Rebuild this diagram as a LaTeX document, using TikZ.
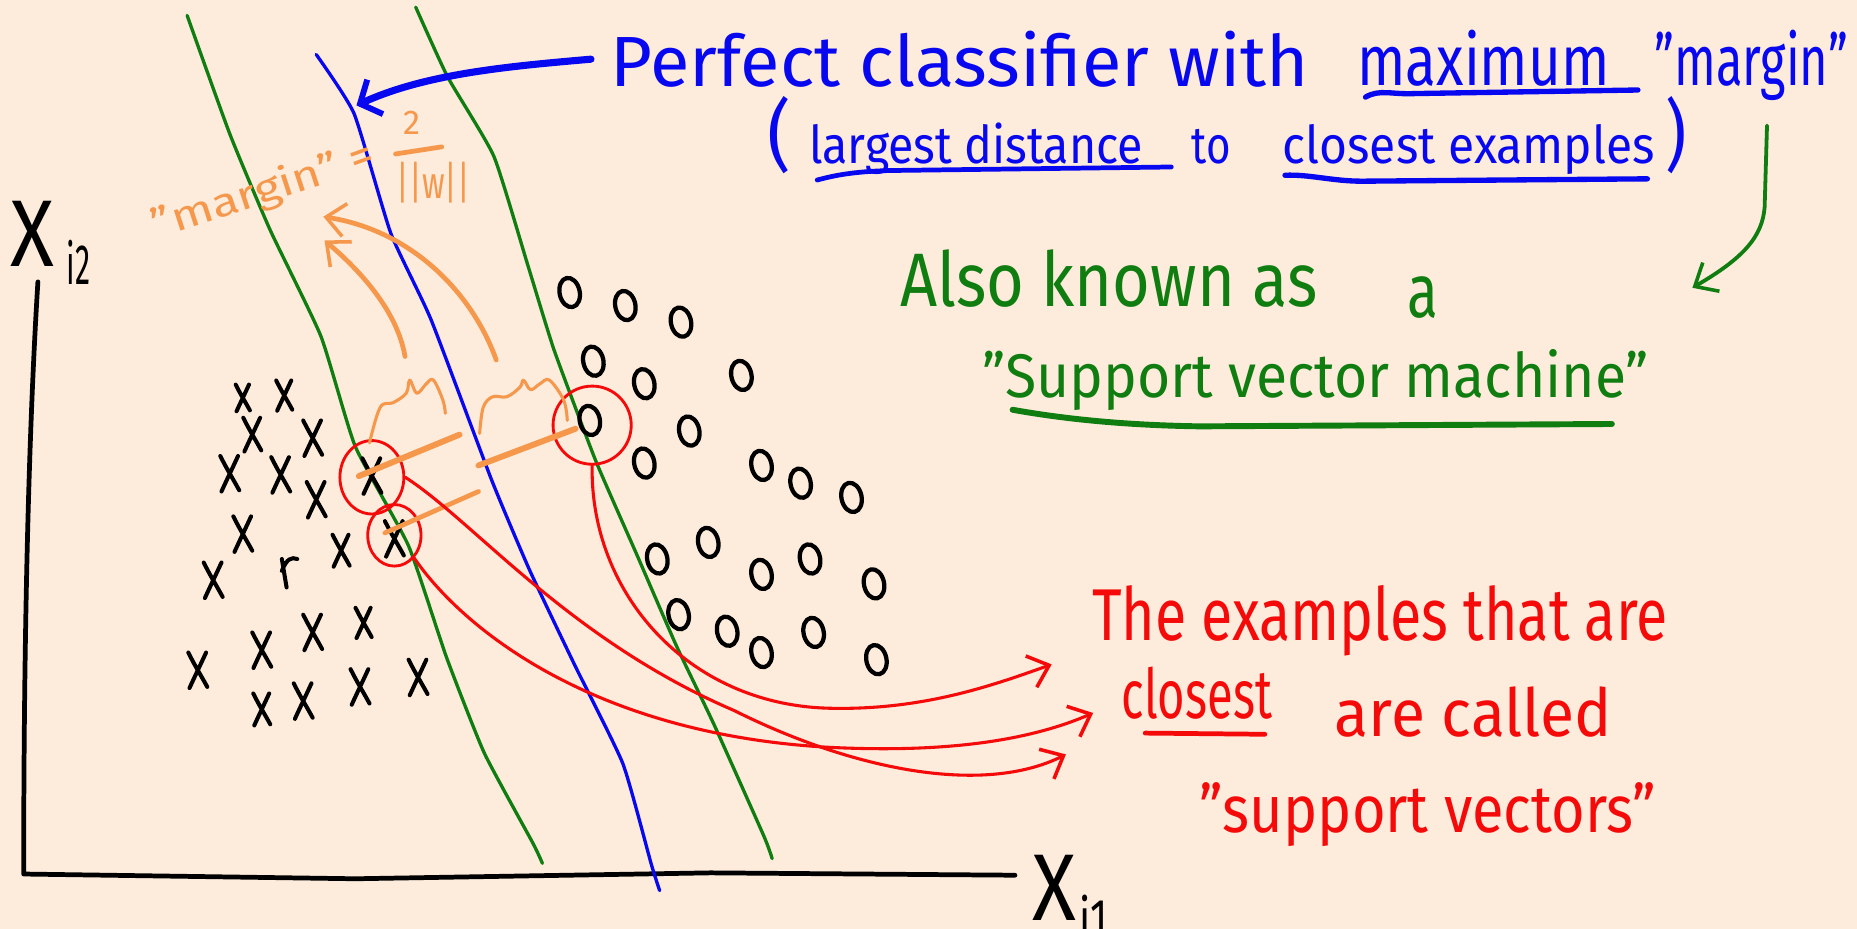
\documentclass[tikz,border=0pt]{standalone}
\usepackage{amsmath}
\usepackage{fontspec}
\setmainfont{Fira Sans}
\usetikzlibrary{arrows.meta, shapes.geometric}
\definecolor{paper}{RGB}{253,235,220}
\definecolor{inkblue}{RGB}{8,8,240}
\definecolor{inkgreen}{RGB}{16,125,16}
\definecolor{inkred}{RGB}{245,10,10}
\definecolor{inkorange}{RGB}{246,152,76}
% squeeze a text to a given width, natural height
\newcommand{\inkfit}[2]{\resizebox{#1}{\height}{#2}}

\tikzset{
  hand/.style={line width=3pt, line cap=round, line join=round},
  xmark/.style={hand, black, line width=3.4pt},
  omark/.style={hand, black, line width=3.6pt},
  ring/.style={ellipse, draw=inkred, line width=2.4pt, inner sep=0pt},
  barb/.style={-{Straight Barb[length=16pt, width=28pt, line width=3pt]}},
  note/.style={anchor=base west, inner sep=0pt},
}

\begin{document}
\begin{tikzpicture}[x=1pt, y=-1pt]
  % paper
  \fill[paper] (0,0) rectangle (1568,784);
  \useasboundingbox (0,0) rectangle (1568,784);

  % axes
  \draw[hand, line width=4pt] (32,238) .. controls (22,400) and (20,600) .. (20,738) -- (300,742) -- (600,737) -- (857,739);
  \node[note, font=\fontsize{80}{84}\selectfont] (xtwo) at (9,225) {\inkfit{37pt}{X}};
  \node[note, font=\fontsize{48}{52}\selectfont] (xtwosub) at (56,240) {\inkfit{20pt}{i2}};
  \node[note, font=\fontsize{80}{84}\selectfont] (xone) at (872,777) {\inkfit{37pt}{X}};
  \node[note, font=\fontsize{46}{50}\selectfont] (xonesub) at (911,792) {\inkfit{24pt}{i1}};

  % margin lines
  \draw[hand, inkgreen, line width=2.8pt] plot[smooth, tension=0.3] coordinates {(158,13) (194,113) (228,194) (271,284) (300,377) (345,461) (377,555) (409,636) (450,712) (458,729)};
  \draw[hand, inkgreen, line width=2.8pt] plot[smooth, tension=0.3] coordinates {(351,6) (378,65) (417,132) (446,225) (468,296) (503,389) (538,469) (571,545) (603,612) (645,706) (652,725)};
  \draw[hand, inkblue, line width=2.8pt] plot[smooth, tension=0.3] coordinates {(267,46) (299,96) (330,197) (364,270) (415,405) (447,481) (485,561) (526,645) (550,730) (557,752)};

  % class x
  \foreach \px/\py/\s in {205/336/0.75, 240/334/0.85, 213/367/0.95, 264/370/1, 194/400/1, 237/401/1,
      267/422/1, 314/402/1, 205/451/1, 180/490/1, 288/465/0.9, 333/455/1, 167/566/1, 221/549/1,
      264/534/1, 307/526/0.85, 221/599/0.9, 256/592/1, 304/580/1, 353/572/1}
    \draw[xmark, shift={(\px,\py)}, scale=\s] (-8,-15) .. controls (-2,-3) and (2,3) .. (8,14) (7,-15) .. controls (1,-2) and (-2,4) .. (-7,15);
  % r-shaped point
  \draw[xmark] (238,472) -- (242,496) (238,482) .. controls (242,472) and (246,470) .. (251,472);

  % class o
  \foreach \px/\py in {481/247, 528/258, 575/272, 501/305, 544/324, 626/317, 498/355, 582/364,
      544/391, 643/393, 676/408, 719/420, 555/472, 598/458, 643/485, 684/472, 738/493,
      573/519, 614/533, 643/551, 687/534, 740/557}
    \draw[omark] (\px,\py) ellipse [x radius=8.5, y radius=12.5, rotate=12];

  % support vector rings
  \node[ring, minimum width=54pt, minimum height=62pt] (ringa) at (314,403) {};
  \node[ring, minimum width=45pt, minimum height=52pt] (ringb) at (333,452) {};
  \node[ring, minimum width=66pt, minimum height=66pt] (ringc) at (500,359) {};

  % distances
  \draw[hand, inkorange, line width=5pt] (303,402) -- (388,367);
  \draw[hand, inkorange, line width=5pt] (404,393) -- (486,362);
  \draw[hand, inkorange, line width=4pt] (325,450) -- (404,415);
  \draw[hand, inkorange, line width=2.6pt] plot[smooth, tension=0.6] coordinates {(312,374) (321,344) (332,340) (343,332) (346,321) (352,332) (360,324) (366,321) (374,338) (376,349)};
  \draw[hand, inkorange, line width=2.6pt] plot[smooth, tension=0.6] coordinates {(405,366) (408,344) (416,335) (428,335) (439,327) (442,321) (448,329) (456,324) (464,321) (476,338) (479,355)};
  \draw[hand, inkorange, line width=4pt, barb] (342,301) .. controls (335,260) and (300,225) .. (274,203);
  \draw[hand, inkorange, line width=4pt, barb] (419,304) .. controls (400,250) and (350,195) .. (273,183);
  \node[inkorange, anchor=base, inner sep=0pt, rotate=18, font=\fontsize{34}{38}\selectfont] (marglbl) at (211,176) {\inkfit{165pt}{"margin"}};
  \node[inkorange, rotate=20, inner sep=0pt, font=\fontsize{40}{44}\selectfont] (margeq) at (306,136) {=};
  \node[inkorange, inner sep=0pt, font=\fontsize{29}{32}\selectfont] (margtwo) at (348,104) {2};
  \node[inkorange, inner sep=0pt, font=\fontsize{38}{42}\selectfont] (margnorm) at (366,154) {\inkfit{62pt}{||w||}};
  \draw[hand, inkorange, line width=4pt] (334,130) -- (373,124);

  % classifier note
  \node[note, inkblue, font=\fontsize{60}{64}\selectfont] (perf) at (515,73) {\inkfit{590pt}{Perfect classifier with}};
  \node[note, inkblue, font=\fontsize{60}{64}\selectfont] (maxw) at (1146,72) {\inkfit{213pt}{maximum}};
  \node[note, inkblue, font=\fontsize{60}{64}\selectfont] (margw) at (1397,72) {\inkfit{163pt}{"margin"}};
  \node[note, inkblue, font=\fontsize{66}{70}\selectfont] (lpar) at (648,137) {\inkfit{20pt}{(}};
  \node[note, inkblue, font=\fontsize{44}{48}\selectfont] (lgd) at (683,138) {\inkfit{282pt}{largest distance}};
  \node[note, inkblue, font=\fontsize{44}{48}\selectfont] (tow) at (1006,138) {\inkfit{33pt}{to}};
  \node[note, inkblue, font=\fontsize{44}{48}\selectfont] (cle) at (1083,138) {\inkfit{314pt}{closest examples}};
  \node[note, inkblue, font=\fontsize{66}{70}\selectfont] (rpar) at (1406,137) {\inkfit{18pt}{)}};
  \draw[hand, inkblue, line width=4.5pt] (1153,82) .. controls (1165,75) and (1175,80) .. (1195,79) -- (1383,76);
  \draw[hand, inkblue, line width=4pt] (690,152) .. controls (705,148) and (720,145) .. (750,144) -- (989,141);
  \draw[hand, inkblue, line width=4.5pt] (1085,148) .. controls (1105,147) and (1125,153) .. (1150,153) -- (1391,151);
  \draw[hand, inkblue, line width=6pt, -{Straight Barb[length=14pt, width=32pt, line width=5pt]}] ([xshift=-16pt]perf.west) .. controls (430,56) and (360,62) .. (301,89);

  % svm note
  \node[note, inkgreen, font=\fontsize{64}{68}\selectfont] (also) at (760,259) {\inkfit{352pt}{Also known as}};
  \node[note, inkgreen, font=\fontsize{64}{68}\selectfont] (alsoa) at (1188,268) {\inkfit{26pt}{a}};
  \node[note, inkgreen, font=\fontsize{52}{56}\selectfont] (svm) at (829,336) {\inkfit{563pt}{"Support vector machine"}};
  \draw[hand, inkgreen, line width=5pt] (855,346) .. controls (900,354) and (950,359) .. (1013,360) -- (1361,358);
  \draw[hand, inkgreen, line width=3.2pt, barb] (1492,106) -- (1490,175) .. controls (1488,200) and (1472,218) .. (1429,243);

  % support vector note
  \node[note, inkred, font=\fontsize{62}{66}\selectfont] (red1) at (922,541) {\inkfit{486pt}{The examples that are}};
  \node[note, inkred, font=\fontsize{58}{62}\selectfont] (red2) at (947,607) {\inkfit{127pt}{closest}};
  \node[note, inkred, font=\fontsize{56}{60}\selectfont] (red2b) at (1127,622) {\inkfit{234pt}{are called}};
  \node[note, inkred, font=\fontsize{56}{60}\selectfont] (red3) at (1013,703) {\inkfit{385pt}{"support vectors"}};
  \draw[hand, inkred, line width=4pt] (967,619) -- (1068,620);
  \coordinate (tipa) at (888,561);
  \coordinate (tipb) at (923,602);
  \coordinate (tipc) at (900,637);
  \draw[hand, inkred, line width=2.6pt, barb] (ringc.south) .. controls (498,500) and (580,595) .. (700,598) .. controls (780,600) and (840,578) .. (tipa);
  \draw[hand, inkred, line width=2.6pt, barb] (ringb.south east) .. controls (390,530) and (500,620) .. (700,631) .. controls (800,636) and (870,625) .. (tipb);
  \draw[hand, inkred, line width=2.6pt, barb] (ringa.east) .. controls (400,440) and (480,540) .. (620,600) .. controls (720,650) and (830,672) .. (tipc);
\end{tikzpicture}
\end{document}
